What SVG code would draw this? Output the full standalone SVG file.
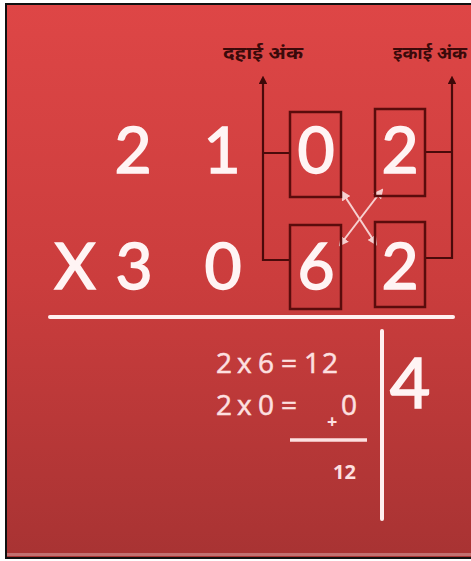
<svg xmlns="http://www.w3.org/2000/svg" width="471" height="561" viewBox="0 0 471 561">
<defs>
<linearGradient id="bg" x1="0" y1="0" x2="0" y2="1">
<stop offset="0" stop-color="#de4646"/>
<stop offset="0.5" stop-color="#cb3d3d"/>
<stop offset="1" stop-color="#a83333"/>
</linearGradient>
<marker id="up" viewBox="0 0 10 10" refX="5" refY="5" markerWidth="4" markerHeight="4" orient="auto-start-reverse">
<path d="M0,0 L10,5 L0,10 z" fill="#3d0808"/>
</marker>
<marker id="wh" viewBox="0 0 10 10" refX="8" refY="5" markerWidth="5" markerHeight="5" orient="auto-start-reverse">
<path d="M0,0 L10,5 L0,10 z" fill="#f7d0d0"/>
</marker>
<style>
.big{font-family:Lato,"Open Sans",sans-serif;font-size:64px;fill:#fff4f4;stroke:#fff4f4;stroke-width:1.6;text-anchor:middle}
.mid{font-family:"Open Sans",Lato,sans-serif;font-size:28px;fill:#fde0e0;stroke:#fde0e0;stroke-width:0.5}
.lbl{font-family:"Noto Sans Devanagari","Noto Sans",sans-serif;font-size:18px;font-weight:bold;fill:#3a0a0a;text-anchor:middle}
.box{fill:none;stroke:#5a0c0c;stroke-width:2.5}
.br{fill:none;stroke:#4a0a0a;stroke-width:2.2}
.wl{stroke:#fff0f0;stroke-width:4;stroke-linecap:round}
</style>
</defs>
<rect x="0" y="0" width="471" height="561" fill="#ffffff"/>
<rect x="6" y="4" width="470" height="553" fill="url(#bg)"/>
<rect x="6" y="553" width="465" height="3" fill="#c27070"/>
<rect x="6" y="4" width="470" height="554" fill="none" stroke="#111" stroke-width="2"/>

<g id="labels">
<text class="lbl" x="263" y="59" textLength="80" lengthAdjust="spacingAndGlyphs">दहाई अंक</text>
<text class="lbl" x="430" y="59" textLength="74" lengthAdjust="spacingAndGlyphs">इकाई अंक</text>
</g>

<g id="connectors">
<path class="br" d="M263,80 V260 H290 M263,153 H290" marker-start="url(#up)"/>
<path class="br" d="M452,80 V258 H425 M452,152 H425" marker-start="url(#up)"/>
<line x1="342" y1="192" x2="376" y2="244" stroke="#f7d0d0" stroke-width="2" marker-start="url(#wh)" marker-end="url(#wh)"/>
<line x1="382" y1="190" x2="340" y2="245" stroke="#f7d0d0" stroke-width="2" marker-start="url(#wh)" marker-end="url(#wh)"/>
</g>

<g id="boxes">
<rect class="box" x="290" y="112" width="51" height="85"/>
<rect class="box" x="375" y="109" width="50" height="87"/>
<rect class="box" x="290" y="225" width="51" height="84"/>
<rect class="box" x="375" y="222" width="50" height="85"/>
</g>

<g id="row1">
<text class="big" x="133" y="173">2</text>
<text class="big" x="222" y="173">1</text>
<text class="big" x="316" y="173">0</text>
<text class="big" x="400" y="173">2</text>
</g>
<g id="row2">
<text class="big" x="75" y="289">X</text>
<text class="big" x="134" y="289">3</text>
<text class="big" x="223" y="289">0</text>
<text class="big" x="316" y="289">6</text>
<text class="big" x="400" y="289">2</text>
</g>

<g id="result">
<line class="wl" x1="50" y1="317" x2="453" y2="317"/>
<line class="wl" x1="382" y1="331" x2="382" y2="519"/>
<text class="mid" y="373"><tspan x="216">2</tspan><tspan x="237">x</tspan><tspan x="258">6</tspan><tspan x="281">=</tspan><tspan x="304" letter-spacing="2">12</tspan></text>
<text class="mid" y="415"><tspan x="216">2</tspan><tspan x="237">x</tspan><tspan x="258">0</tspan><tspan x="281">=</tspan><tspan x="341">0</tspan></text>
<text x="327" y="428" font-family="'Open Sans',sans-serif" font-size="18" font-weight="bold" fill="#fde0e0">+</text>
<line x1="290" y1="440" x2="367" y2="440" stroke="#fde0e0" stroke-width="3.5"/>
<text x="333" y="479" font-family="'Open Sans',sans-serif" font-size="20" font-weight="bold" fill="#fde0e0">12</text>
<text class="big" x="410" y="408" style="font-size:70px">4</text>
</g>
</svg>
